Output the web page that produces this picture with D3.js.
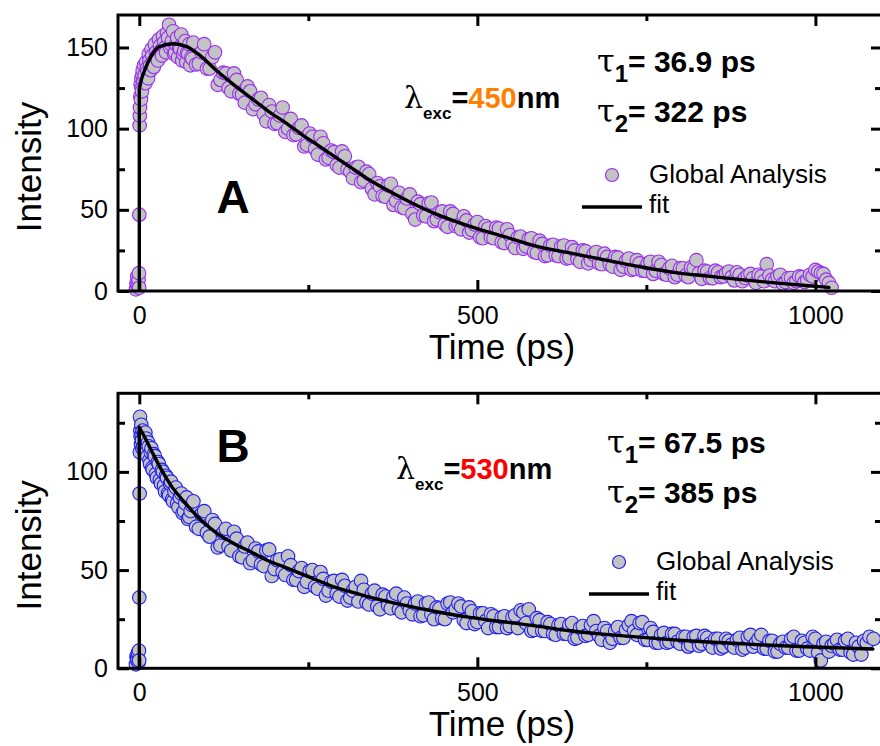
<!DOCTYPE html>
<html>
<head>
<meta charset="utf-8">
<script src="https://cdn.jsdelivr.net/npm/d3@7/dist/d3.min.js"></script>
<style>
  html, body { margin: 0; padding: 0; background: #fff; }
  svg { display: block; }
  text { font-family: "Liberation Sans", Arial, sans-serif; }
</style>
</head>
<body>
<svg id="chart" width="880" height="746"></svg>
<script>
// ---------------- DATA ----------------
// Panel A (λexc = 450 nm) : measured points
const timeA = [-5,-4,-3,-2,-1,0,0.5,1,1.5,2,3,4,5,6,7,8,10,12,14,16,18,20,23,26,29,32,35,38,41,44,47,50,53,56,59,62,65,68,71,74,77,
  80,88,96,104,112,120,128,136,144,152,160,168,176,184,192,200,208,216,224,232,240,248,256,264,272,280,288,296,304,312,320,328,336,
  344,352,360,368,376,384,392,400,408,416,424,432,440,448,456,464,472,480,488,496,504,512,520,528,536,544,552,560,568,576,584,592,
  600,608,616,624,632,640,648,656,664,672,680,688,696,704,712,720,728,736,744,752,760,768,776,784,792,800,808,816,824,832,840,848,
  856,864,872,880,888,896,904,912,920,928,936,944,952,960,968,976,984,992,1000,1008,1016,1024];
const intensityA = [1,5,9,3,7,47,102,113,120,127,131,123,136,129,139,133,141,135,146,139,149,141,152,145,155,148,157,150,159,164,152,160,147,156,150,158,146,154,147,152,144,
  153,140,152,137,147,130,134,123,130,121,126,112,118,109,114.5,103,108,98,106,96.5,102,90,95,84,91,82,85.5,76,83,73.5,76,67,73.5,
  63,66.5,58.5,65,53,60.5,51,59.5,44,53.5,46,54.5,44,49,39.5,47.5,40.5,46,36,41,33,40,33,39,30,38,29,33,26,32,24,31,
  21.5,28,22,27.5,20,27,19.5,25,17,22.5,17,23,16.5,21,13,18.5,13,19,12.5,17,10.5,18,10.5,14,8.5,14,9.5,14.5,19,7.5,12,7.8,
  11.5,9,12,6.5,10,8,10.5,5,9,16.5,7,9,4.5,8,5,9,5.5,10,13,11,7,2];
const timeA2 = [-3.5,-0.5,-0.2,0.8,2.5,3.5,4.5,9,11,13,15,17,19,21.5,24.5,27.5,30.5,33.5,36.5,39.5,42.5,45.5,48.5,51.5,54.5,57.5,60.5,63.5,66.5,69.5,72.5,75.5,78.5,
  84,92,100,108,116,124,132,140,148,156,164,172,180,188,196,204,212,220,228,236,244,252,260,268,276,284,292,300,308,316,324,332,340,
  348,356,364,372,380,388,396,404,412,420,428,436,444,452,460,468,476,484,492,500,508,516,524,532,540,548,556,564,572,580,588,596,
  604,612,620,628,636,644,652,660,668,676,684,692,700,708,716,724,732,740,748,756,764,772,780,788,796,804,812,820,828,836,844,852,
  860,868,876,884,892,900,908,916,924,932,940,948,956,964,972,980,988,996,1004,1012,1020];
const intensityA2 = [4,11,2,108,118,125,133,128,137,131,142,136,145,138,147,142,151,145,153,147,156,150,154,146,152,144,149,142,148,141,146,139,143,
  139.5,147,137,144,127,134.5,125,134,121.5,116,123,115,119,104.5,110.5,103.5,113,100,96,100.5,89,97,87.5,95,81,86.5,77.5,86,75,69.5,76.5,68,72,
  59.5,64.5,58,66,55.5,51.5,57,47.5,55,46.5,54,43,48.5,41,49,40,38,43.5,37.5,42.5,32.5,38.5,32.5,38.5,29.5,34.5,26.5,33.5,27.5,32.5,23.5,29,
  22,28.5,21.5,28,20.5,25,18,24.5,19,24,16.5,21,15,20.5,15,20,13.5,17,12.5,18,12.5,16,10,15.5,10,14,8.5,14,11,12.5,8,12.5,
  8.5,11,8.5,11.5,6,9.5,8,10,6,9.5,6,10,5.5,8,6,8.5,6.5,9,12,10.5,5];
const fitTimeA = [0,0,3,7,12,18,30,50,70,90,115,140,165,190,215,240,265,290,315,340,390,440,490,540,590,640,690,740,790,840,890,940,990,1020];
const fitA = [0,124,130,135,140,145,150.5,152.3,150.5,145,135.5,127,119,111,104,96.5,89.5,82.5,75.5,68.5,57,47.2,39.7,33.5,27.3,23.2,19,15,11.5,9.2,7,5,3.2,2.2];

// Panel B (λexc = 530 nm) : measured points
const timeB = [-5,-4,-3,-2,-1,0,0.5,1,1.5,2,3,4,5,6,7,8,10,12,14,16,18,20,23,26,29,32,35,38,41,44,47,50,54,58,62,66,70,74,78,
  80,88,96,104,112,120,128,136,144,152,160,168,176,184,192,200,208,216,224,232,240,248,256,264,272,280,288,296,304,312,
  320,328,336,344,352,360,368,376,384,392,400,408,416,424,432,440,448,456,464,472,480,488,496,504,512,520,528,536,544,552,
  560,568,576,584,592,600,608,616,624,632,640,648,656,664,672,680,688,696,704,712,720,728,736,744,752,760,768,776,784,792,
  800,808,816,824,832,840,848,856,864,872,880,888,896,904,912,920,928,936,944,952,960,968,976,984,992,1000,1008,1016,1024,1032,
  1040,1048,1056,1064,1072,1080,1086];
const intensityB = [2,6,4,8,3,36,89,128,121,118,124,116,121,113,119,111,117,108,113,104,112,101,108,97,104,94,100,90,97,88,95,85,92,82,89,80,87,77,83,
  85,71,80,67,73.5,62.5,71,60,66,56.5,64,55,59.5,52,60.5,50.5,55.5,47.5,52.5,45,51,44,50,40.5,45.5,39.5,44.5,36.5,42,36,
  41.5,44.5,33.5,38,31.5,37.5,32,36.5,30,36,29.5,33,26.5,33,27.5,31,25.5,33,28.5,33,24.5,31,22.5,28,24,27.5,21,26,20.5,26,
  20.5,28.5,30,19.5,24.5,19,22.5,17,22.5,17.5,23,15.5,21.5,17,24,16.5,20.5,13,19,15.5,19.5,24,17,23.5,14.5,18.5,13,18,13.5,17.5,
  12.5,16,12,16.5,12.5,15.5,10.5,15,11,14,10.5,15.5,10.5,17,13,17,10,14,8.5,13.5,10.5,16,9,13,9,15,4,13.5,11.5,14.5,
  9.5,15,7,11,14,16,15];
const timeB2 = [-3.5,-0.5,-0.2,0.8,2.5,3.5,4.5,9,11,13,15,17,19,21.5,24.5,27.5,30.5,33.5,36.5,39.5,42.5,45.5,48.5,52,56,60,64,68,72,76,
  84,92,100,108,116,124,132,140,148,156,164,172,180,188,196,204,212,220,228,236,244,252,260,268,276,284,292,300,308,316,324,332,340,
  348,356,364,372,380,388,396,404,412,420,428,436,444,452,460,468,476,484,492,500,508,516,524,532,540,548,556,564,572,580,588,596,
  604,612,620,628,636,644,652,660,668,676,684,692,700,708,716,724,732,740,748,756,764,772,780,788,796,804,812,820,828,836,844,852,
  860,868,876,884,892,900,908,916,924,932,940,948,956,964,972,980,988,996,1004,1012,1020,1028,1036,1044,1052,1060,1068,1076];
const intensityB2 = [5,9,4,110,114,119,112,120,110,115,106,110,102,109,99,105,96,101,93,98,89,94,86,90,84,87,79,84,76,80,
  72,78.5,69,75.5,61.5,69,62,69.5,57,62,53.5,61,53,60,47,55,49,57,45,49.5,41.5,49.5,41.5,49,37,44,38,45,34.5,39.5,34,40,32.5,
  39.5,30,36.5,30.5,38,28.5,33,27.5,34,27,33.5,25,30.5,25,33.5,30,31.5,23,29,23.5,28,20.5,26.5,21,26.5,21.5,27,29.5,23,19,25.5,19,
  23.5,17.5,22,17.5,22,15,20.5,16.5,22,19,14.5,19,15,21,15.5,22,19,23,14.5,20.5,13,17,13,17.5,13.5,16,11,16,11.5,16.5,12.5,15,
  10,15,12,14.5,9.5,16,11,15,10,14,8.5,12.5,10.5,15,9,14,10,16,8,12.5,8.5,12.5,9.5,14,8,13,7,13];
const fitTimeB = [0,0,8,18,32,47,67,92,116,141,166,190,215,240,264,289,314,345,391,440,489,538,588,637,686,735,785,835,885,935,985,1035,1085];
const fitB = [0,122.7,117.6,110.8,101.5,93,84.5,75.2,68.4,63.3,59.1,54.9,51.5,48.1,44.7,41.3,38.8,35.8,32.2,28.8,25.9,23.7,21.5,19.1,17.4,16,14.6,13.5,12.6,11.7,11,10.4,9.8];

// Ticks
const xMajorTicks = [0, 500, 1000];
const xMinorTicks = [250, 750];
const yMajorTicksA = [0, 50, 100, 150];
const yMinorTicksA = [25, 75, 125];
const yMajorTicksB = [0, 50, 100];
const yMinorTicksB = [25, 75, 125];

const xDomain = [-31.5, 1098.5];
const yDomainA = [0, 170];
const yDomainB = [0, 140];

// ---------------- DRAW ----------------
const svg = d3.select("#chart");

function drawPanel(o) {
  const x = d3.scaleLinear().domain(xDomain).range([o.left, o.right]);
  const y = d3.scaleLinear().domain(o.yDomain).range([o.bottom, o.top]);
  const g = svg.append("g");

  // data points (both point sets merged in time order)
  const pts = d3.zip(o.time, o.values).concat(d3.zip(o.time2, o.values2))
    .sort((a, b) => a[0] - b[0]);
  g.append("g").selectAll("circle").data(pts).join("circle")
    .attr("cx", d => x(d[0])).attr("cy", d => y(d[1])).attr("r", 6.8)
    .attr("fill", "#c3c3c3").attr("stroke", o.color).attr("stroke-width", 1.1);

  // fit line
  const fp = d3.zip(o.fitTime, o.fitValues);
  const lin = d3.line().x(d => x(d[0])).y(d => y(d[1]));
  g.append("path").attr("d", lin(fp.slice(0, 2)))
    .attr("fill", "none").attr("stroke", "#000").attr("stroke-width", 3.4);
  g.append("path").attr("d", lin.curve(d3.curveMonotoneX)(fp.slice(1)))
    .attr("fill", "none").attr("stroke", "#000").attr("stroke-width", 3.4)
    .attr("stroke-linecap", "round");

  // axes (inward ticks)
  const styleAxis = sel => {
    sel.select(".domain").remove();
    sel.selectAll(".tick line").attr("stroke", "#000").attr("stroke-width", 3);
    sel.selectAll("text").attr("fill", "#000").style("font-size", "25px")
      .style("font-family", "'Liberation Sans', Arial, sans-serif");
  };
  g.append("g").attr("transform", `translate(0,${o.bottom})`)
    .call(d3.axisBottom(x).tickValues(xMajorTicks).tickSize(-11).tickPadding(15).tickFormat(d3.format("d"))).call(styleAxis);
  g.append("g").attr("transform", `translate(0,${o.bottom})`)
    .call(d3.axisBottom(x).tickValues(xMinorTicks).tickSize(-6).tickFormat("")).call(styleAxis);
  g.append("g").attr("transform", `translate(0,${o.top})`)
    .call(d3.axisTop(x).tickValues(xMajorTicks).tickSize(-11).tickFormat("")).call(styleAxis);
  g.append("g").attr("transform", `translate(0,${o.top})`)
    .call(d3.axisTop(x).tickValues(xMinorTicks).tickSize(-6).tickFormat("")).call(styleAxis);
  g.append("g").attr("transform", `translate(${o.left},0)`)
    .call(d3.axisLeft(y).tickValues(o.yMajor).tickSize(-11).tickPadding(10).tickFormat(d3.format("d"))).call(styleAxis);
  g.append("g").attr("transform", `translate(${o.left},0)`)
    .call(d3.axisLeft(y).tickValues(o.yMinor).tickSize(-7).tickFormat("")).call(styleAxis);
  g.append("g").attr("transform", `translate(${o.right},0)`)
    .call(d3.axisRight(y).tickValues(o.yMajor).tickSize(-11).tickFormat("")).call(styleAxis);
  g.append("g").attr("transform", `translate(${o.right},0)`)
    .call(d3.axisRight(y).tickValues(o.yMinor).tickSize(-7).tickFormat("")).call(styleAxis);

  // frame
  g.append("rect").attr("x", o.left).attr("y", o.top)
    .attr("width", o.right - o.left).attr("height", o.bottom - o.top)
    .attr("fill", "none").attr("stroke", "#000").attr("stroke-width", 3);

  // axis titles
  g.append("text").attr("x", 502).attr("y", o.bottom + 68).attr("text-anchor", "middle")
    .style("font-size", "35px").text("Time (ps)");
  g.append("text").attr("transform", `translate(41,${o.top + o.yTitleOff}) rotate(-90)`)
    .attr("text-anchor", "middle").style("font-size", "35px").text("Intensity");

  // panel letter
  g.append("text").attr("x", o.letterX).attr("y", o.letterY).attr("text-anchor", "middle")
    .style("font-size", "46px").style("font-weight", "bold").text(o.letter);

  // lambda label
  const lt = g.append("text").attr("x", o.lamX).attr("y", o.lamY).style("font-weight", "bold");
  lt.append("tspan").style("font-family", "'DejaVu Serif', serif").style("font-weight", "normal").style("font-size", "30px").text("λ");
  lt.append("tspan").attr("dy", 11).style("font-size", "17px").text("exc");
  lt.append("tspan").attr("dy", -11).style("font-size", "29px").text("=");
  lt.append("tspan").style("font-size", "29px").attr("fill", o.lamColor).text(o.lamValue);
  lt.append("tspan").style("font-size", "29px").text("nm");

  // tau labels
  [[o.tau1Y, "1", o.tau1], [o.tau2Y, "2", o.tau2]].forEach(([ty, sub, val]) => {
    const t = g.append("text").attr("x", o.tauX).attr("y", ty).style("font-weight", "bold");
    t.append("tspan").style("font-family", "'DejaVu Serif', serif").style("font-weight", "normal").style("font-size", "32px").text("τ");
    t.append("tspan").attr("dy", 10).style("font-size", "24px").text(sub);
    t.append("tspan").attr("dy", -10).style("font-size", "30px").text("= " + val);
  });

  // legend
  g.append("circle").attr("cx", o.legX).attr("cy", o.legY).attr("r", 6.5)
    .attr("fill", "#c3c3c3").attr("stroke", o.color).attr("stroke-width", 1.2);
  g.append("text").attr("x", o.legX + 37).attr("y", o.legY + 8).style("font-size", "26px").text("Global Analysis");
  g.append("line").attr("x1", o.legX - 30).attr("x2", o.legX + 30)
    .attr("y1", o.legY + 32).attr("y2", o.legY + 32).attr("stroke", "#000").attr("stroke-width", 3.4);
  g.append("text").attr("x", o.legX + 37).attr("y", o.legY + 38).style("font-size", "26px").text("fit");
}

drawPanel({
  left: 118, right: 882, top: 15, bottom: 291, yDomain: yDomainA,
  time: timeA, values: intensityA, time2: timeA2, values2: intensityA2,
  fitTime: fitTimeA, fitValues: fitA,
  yMajor: yMajorTicksA, yMinor: yMinorTicksA, color: "#9a2cf5",
  yTitleOff: 152, letter: "A", letterX: 233, letterY: 213,
  lamX: 404, lamY: 108, lamColor: "#ff8000", lamValue: "450",
  tauX: 597, tau1Y: 72, tau2Y: 122, tau1: "36.9 ps", tau2: "322 ps",
  legX: 612, legY: 175
});

drawPanel({
  left: 118, right: 882, top: 393.3, bottom: 668.3, yDomain: yDomainB,
  time: timeB, values: intensityB, time2: timeB2, values2: intensityB2,
  fitTime: fitTimeB, fitValues: fitB,
  yMajor: yMajorTicksB, yMinor: yMinorTicksB, color: "#1f1ff5",
  yTitleOff: 152, letter: "B", letterX: 233, letterY: 462,
  lamX: 396, lamY: 479, lamColor: "#ff0000", lamValue: "530",
  tauX: 607, tau1Y: 453, tau2Y: 503, tau1: "67.5 ps", tau2: "385 ps",
  legX: 619, legY: 562
});
</script>
</body>
</html>
